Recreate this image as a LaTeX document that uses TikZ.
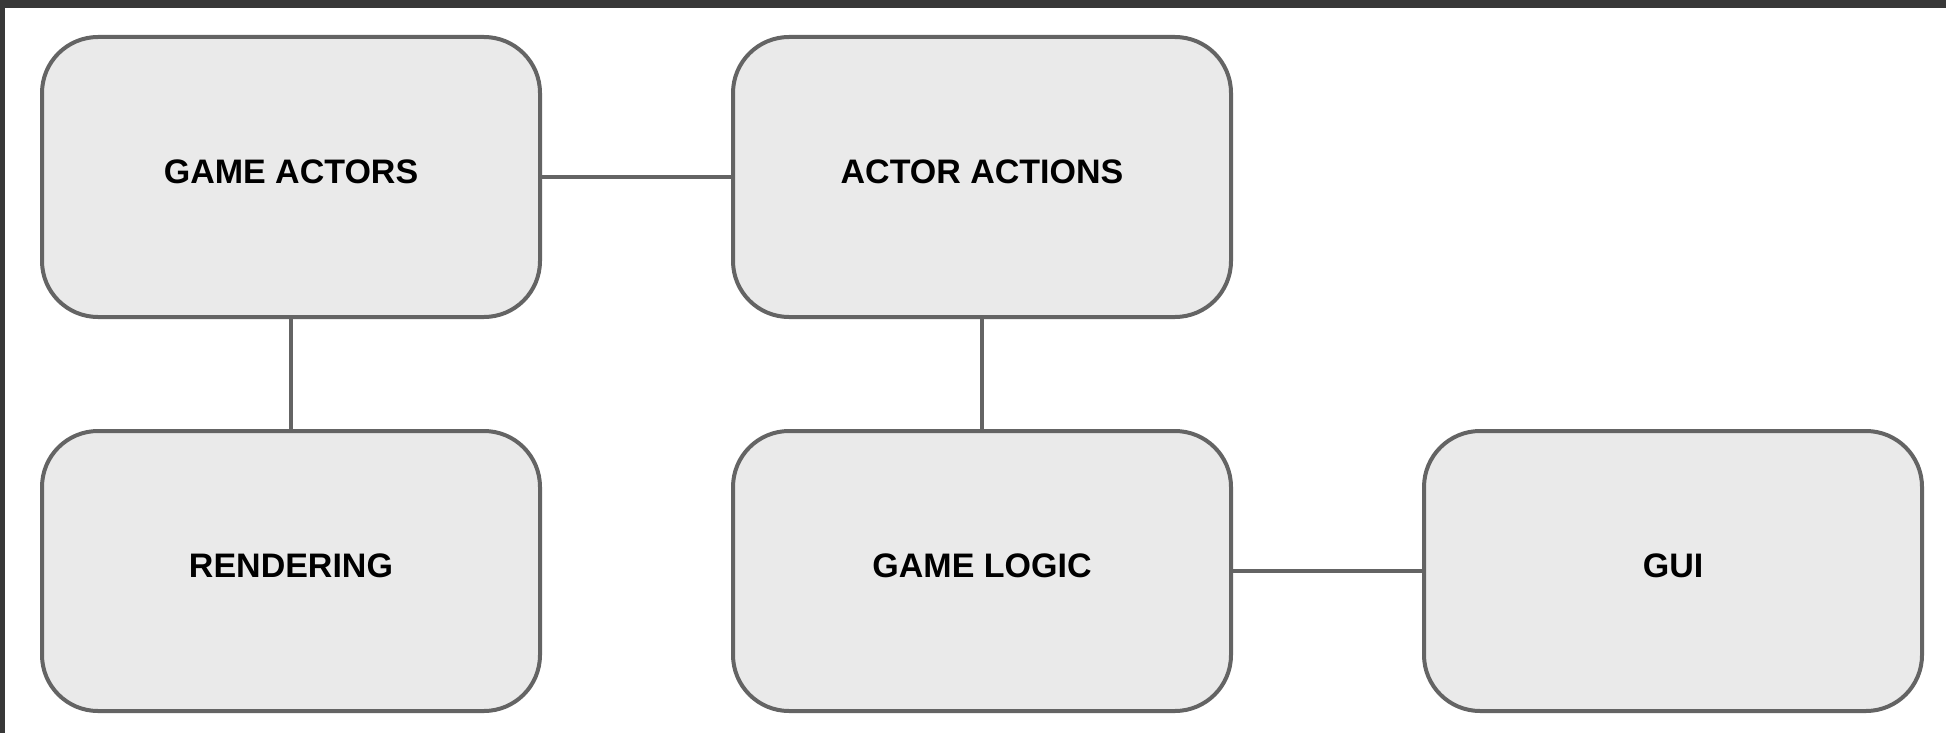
\documentclass[tikz,border=0pt]{standalone}
\usepackage{fontspec}
\setmainfont{Liberation Sans}
\definecolor{framegray}{HTML}{383838}
\definecolor{boxfill}{HTML}{EAEAEA}
\definecolor{boxline}{HTML}{646464}
\begin{document}
\begin{tikzpicture}[x=0.5pt,y=-0.5pt,
  block/.style={draw=boxline, fill=boxfill, line width=2pt, rounded corners=28pt,
    minimum width=249pt, minimum height=140pt, inner sep=0pt,
    text depth=5pt, font=\fontsize{17}{20}\selectfont\bfseries, text=black},
  link/.style={draw=boxline, line width=2pt}]
\useasboundingbox (0,0) rectangle (1946,733);
\fill[white] (0,0) rectangle (1946,733);
\fill[framegray] (0,0) rectangle (1946,8);
\fill[framegray] (0,0) rectangle (5,733);
\node[block] (actors)  at (291,177) {GAME ACTORS};
\node[block] (actions) at (982,177) {ACTOR ACTIONS};
\node[block] (render)  at (291,571) {RENDERING};
\node[block] (logic)   at (982,571) {GAME LOGIC};
\node[block] (gui)     at (1673,571) {GUI};
\draw[link] (actors.east) -- (actions.west);
\draw[link] (actors.south) -- (render.north);
\draw[link] (actions.south) -- (logic.north);
\draw[link] (logic.east) -- (gui.west);
\end{tikzpicture}
\end{document}
